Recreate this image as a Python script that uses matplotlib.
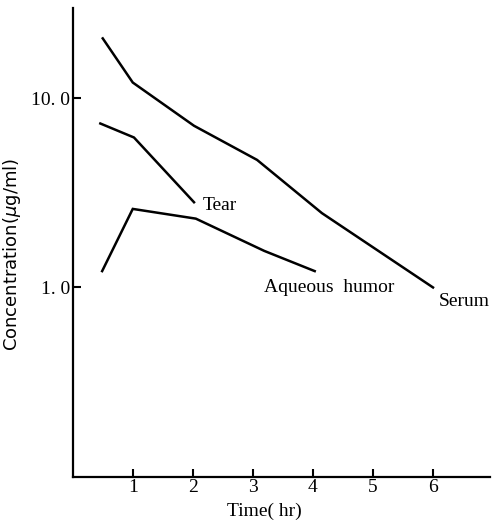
import numpy as np
import matplotlib.pyplot as plt
from matplotlib.ticker import FixedLocator, FixedFormatter, NullLocator

# values (time in hr, concentration in ug/ml)
serum_t = [0.5, 1.0, 2.02, 3.07, 4.15, 6.0]
serum_c = [20.7, 12.1, 7.15, 4.72, 2.47, 1.0]

tear_t = [0.46, 1.02, 2.02]
tear_c = [7.35, 6.2, 2.82]

aq_t = [0.49, 1.0, 2.05, 3.19, 4.03]
aq_c = [1.22, 2.6, 2.31, 1.56, 1.22]

xticks = [1, 2, 3, 4, 5, 6]
yticks = [1.0, 10.0]
ytick_labels = ['1. 0', '10. 0']

plt.rcParams['font.family'] = ['Liberation Serif', 'DejaVu Serif']

fig = plt.figure(figsize=(4.96, 5.26), dpi=100)
ax = fig.add_axes([0.1466, 0.0937, 0.8414, 0.8913])

for t, c in [(serum_t, serum_c), (tear_t, tear_c), (aq_t, aq_c)]:
    ax.plot(t, c, color='black', lw=1.8, solid_joinstyle='miter')

ax.set_yscale('log')
ax.set_xlim(0, 6.95)
ax.set_ylim(0.1, 30)

ax.spines['top'].set_visible(False)
ax.spines['right'].set_visible(False)
ax.spines['left'].set_linewidth(1.6)
ax.spines['bottom'].set_linewidth(1.6)

ax.xaxis.set_major_locator(FixedLocator(xticks))
ax.yaxis.set_major_locator(FixedLocator(yticks))
ax.yaxis.set_major_formatter(FixedFormatter(ytick_labels))
ax.yaxis.set_minor_locator(NullLocator())
ax.tick_params(direction='in', length=6, width=1.5, labelsize=14, pad=2)

ax.set_xlabel('Time( hr)', fontsize=14)
ax.xaxis.set_label_coords(0.46, -0.055)
ax.set_ylabel('Concentration($\\mu$g/ml)', fontsize=13, family=['DejaVu Sans'])
ax.yaxis.set_label_coords(-0.118, 0.475)

ax.text(2.16, 2.58, 'Tear', fontsize=14, va='baseline', ha='left')
ax.text(3.18, 0.945, 'Aqueous  humor', fontsize=14, va='baseline', ha='left')
ax.text(6.09, 0.80, 'Serum', fontsize=14, va='baseline', ha='left')

fig.savefig('out.png', dpi=100)
